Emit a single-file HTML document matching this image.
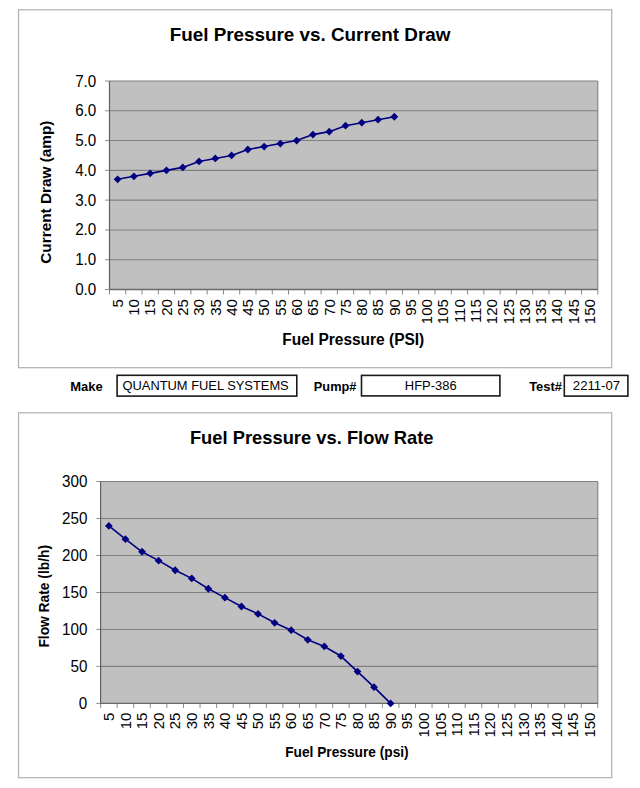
<!DOCTYPE html>
<html><head><meta charset="utf-8"><title>Fuel Pump Test</title>
<style>html,body{margin:0;padding:0;background:#fff;}svg{display:block;}</style></head>
<body><svg width="640" height="788" viewBox="0 0 640 788">
<rect width="640" height="788" fill="#fff"/>
<rect x="18.5" y="9.8" width="593.2" height="357.9" fill="#fff" stroke="#b0b0b0" stroke-width="1.2"/>
<rect x="109.5" y="81" width="488.3" height="208.5" fill="#c0c0c0"/>
<line x1="109.5" x2="597.8" y1="259.71" y2="259.71" stroke="#808080" stroke-width="1.1"/>
<line x1="109.5" x2="597.8" y1="229.93" y2="229.93" stroke="#808080" stroke-width="1.1"/>
<line x1="109.5" x2="597.8" y1="200.14" y2="200.14" stroke="#808080" stroke-width="1.1"/>
<line x1="109.5" x2="597.8" y1="170.36" y2="170.36" stroke="#808080" stroke-width="1.1"/>
<line x1="109.5" x2="597.8" y1="140.57" y2="140.57" stroke="#808080" stroke-width="1.1"/>
<line x1="109.5" x2="597.8" y1="110.79" y2="110.79" stroke="#808080" stroke-width="1.1"/>
<line x1="109.5" x2="597.8" y1="81" y2="81" stroke="#808080" stroke-width="1.1"/>
<line x1="597.8" x2="597.8" y1="81" y2="289.5" stroke="#808080" stroke-width="1.1"/>
<line x1="105" x2="109.5" y1="289.5" y2="289.5" stroke="#909090" stroke-width="1"/>
<line x1="105" x2="109.5" y1="259.71" y2="259.71" stroke="#909090" stroke-width="1"/>
<line x1="105" x2="109.5" y1="229.93" y2="229.93" stroke="#909090" stroke-width="1"/>
<line x1="105" x2="109.5" y1="200.14" y2="200.14" stroke="#909090" stroke-width="1"/>
<line x1="105" x2="109.5" y1="170.36" y2="170.36" stroke="#909090" stroke-width="1"/>
<line x1="105" x2="109.5" y1="140.57" y2="140.57" stroke="#909090" stroke-width="1"/>
<line x1="105" x2="109.5" y1="110.79" y2="110.79" stroke="#909090" stroke-width="1"/>
<line x1="105" x2="109.5" y1="81" y2="81" stroke="#909090" stroke-width="1"/>
<line x1="109.5" x2="109.5" y1="289.5" y2="294.5" stroke="#888" stroke-width="1"/>
<line x1="125.78" x2="125.78" y1="289.5" y2="294.5" stroke="#888" stroke-width="1"/>
<line x1="142.05" x2="142.05" y1="289.5" y2="294.5" stroke="#888" stroke-width="1"/>
<line x1="158.33" x2="158.33" y1="289.5" y2="294.5" stroke="#888" stroke-width="1"/>
<line x1="174.61" x2="174.61" y1="289.5" y2="294.5" stroke="#888" stroke-width="1"/>
<line x1="190.88" x2="190.88" y1="289.5" y2="294.5" stroke="#888" stroke-width="1"/>
<line x1="207.16" x2="207.16" y1="289.5" y2="294.5" stroke="#888" stroke-width="1"/>
<line x1="223.44" x2="223.44" y1="289.5" y2="294.5" stroke="#888" stroke-width="1"/>
<line x1="239.71" x2="239.71" y1="289.5" y2="294.5" stroke="#888" stroke-width="1"/>
<line x1="255.99" x2="255.99" y1="289.5" y2="294.5" stroke="#888" stroke-width="1"/>
<line x1="272.27" x2="272.27" y1="289.5" y2="294.5" stroke="#888" stroke-width="1"/>
<line x1="288.54" x2="288.54" y1="289.5" y2="294.5" stroke="#888" stroke-width="1"/>
<line x1="304.82" x2="304.82" y1="289.5" y2="294.5" stroke="#888" stroke-width="1"/>
<line x1="321.1" x2="321.1" y1="289.5" y2="294.5" stroke="#888" stroke-width="1"/>
<line x1="337.37" x2="337.37" y1="289.5" y2="294.5" stroke="#888" stroke-width="1"/>
<line x1="353.65" x2="353.65" y1="289.5" y2="294.5" stroke="#888" stroke-width="1"/>
<line x1="369.93" x2="369.93" y1="289.5" y2="294.5" stroke="#888" stroke-width="1"/>
<line x1="386.2" x2="386.2" y1="289.5" y2="294.5" stroke="#888" stroke-width="1"/>
<line x1="402.48" x2="402.48" y1="289.5" y2="294.5" stroke="#888" stroke-width="1"/>
<line x1="418.76" x2="418.76" y1="289.5" y2="294.5" stroke="#888" stroke-width="1"/>
<line x1="435.03" x2="435.03" y1="289.5" y2="294.5" stroke="#888" stroke-width="1"/>
<line x1="451.31" x2="451.31" y1="289.5" y2="294.5" stroke="#888" stroke-width="1"/>
<line x1="467.59" x2="467.59" y1="289.5" y2="294.5" stroke="#888" stroke-width="1"/>
<line x1="483.86" x2="483.86" y1="289.5" y2="294.5" stroke="#888" stroke-width="1"/>
<line x1="500.14" x2="500.14" y1="289.5" y2="294.5" stroke="#888" stroke-width="1"/>
<line x1="516.42" x2="516.42" y1="289.5" y2="294.5" stroke="#888" stroke-width="1"/>
<line x1="532.69" x2="532.69" y1="289.5" y2="294.5" stroke="#888" stroke-width="1"/>
<line x1="548.97" x2="548.97" y1="289.5" y2="294.5" stroke="#888" stroke-width="1"/>
<line x1="565.25" x2="565.25" y1="289.5" y2="294.5" stroke="#888" stroke-width="1"/>
<line x1="581.52" x2="581.52" y1="289.5" y2="294.5" stroke="#888" stroke-width="1"/>
<line x1="597.8" x2="597.8" y1="289.5" y2="294.5" stroke="#888" stroke-width="1"/>
<line x1="109.5" x2="109.5" y1="81" y2="289.5" stroke="#606060" stroke-width="1.2"/>
<line x1="109.5" x2="597.8" y1="289.5" y2="289.5" stroke="#6a6a6a" stroke-width="1.3"/>
<g font-family="Liberation Sans, Arial, sans-serif" fill="#000">
<text x="75.18" y="295.02" font-size="16" textLength="21.13" lengthAdjust="spacingAndGlyphs">0.0</text>
<text x="75.18" y="265.23" font-size="16" textLength="21.13" lengthAdjust="spacingAndGlyphs">1.0</text>
<text x="75.18" y="235.45" font-size="16" textLength="21.13" lengthAdjust="spacingAndGlyphs">2.0</text>
<text x="75.18" y="205.66" font-size="16" textLength="21.13" lengthAdjust="spacingAndGlyphs">3.0</text>
<text x="75.18" y="175.88" font-size="16" textLength="21.13" lengthAdjust="spacingAndGlyphs">4.0</text>
<text x="75.18" y="146.09" font-size="16" textLength="21.13" lengthAdjust="spacingAndGlyphs">5.0</text>
<text x="75.18" y="116.31" font-size="16" textLength="21.13" lengthAdjust="spacingAndGlyphs">6.0</text>
<text x="75.18" y="86.52" font-size="16" textLength="21.13" lengthAdjust="spacingAndGlyphs">7.0</text>
<text transform="translate(122.84,307.52) rotate(-90)" font-size="15.3" textLength="8.34" lengthAdjust="spacingAndGlyphs">5</text>
<text transform="translate(139.19,315.84) rotate(-90)" font-size="15.3" textLength="16.68" lengthAdjust="spacingAndGlyphs">10</text>
<text transform="translate(155.39,315.84) rotate(-90)" font-size="15.3" textLength="16.68" lengthAdjust="spacingAndGlyphs">15</text>
<text transform="translate(171.75,315.84) rotate(-90)" font-size="15.3" textLength="16.68" lengthAdjust="spacingAndGlyphs">20</text>
<text transform="translate(188.02,315.84) rotate(-90)" font-size="15.3" textLength="16.68" lengthAdjust="spacingAndGlyphs">25</text>
<text transform="translate(204.3,315.84) rotate(-90)" font-size="15.3" textLength="16.68" lengthAdjust="spacingAndGlyphs">30</text>
<text transform="translate(220.58,315.84) rotate(-90)" font-size="15.3" textLength="16.68" lengthAdjust="spacingAndGlyphs">35</text>
<text transform="translate(236.85,315.84) rotate(-90)" font-size="15.3" textLength="16.68" lengthAdjust="spacingAndGlyphs">40</text>
<text transform="translate(253.05,315.84) rotate(-90)" font-size="15.3" textLength="16.68" lengthAdjust="spacingAndGlyphs">45</text>
<text transform="translate(269.41,315.84) rotate(-90)" font-size="15.3" textLength="16.68" lengthAdjust="spacingAndGlyphs">50</text>
<text transform="translate(285.61,315.84) rotate(-90)" font-size="15.3" textLength="16.68" lengthAdjust="spacingAndGlyphs">55</text>
<text transform="translate(301.96,315.84) rotate(-90)" font-size="15.3" textLength="16.68" lengthAdjust="spacingAndGlyphs">60</text>
<text transform="translate(318.24,315.84) rotate(-90)" font-size="15.3" textLength="16.68" lengthAdjust="spacingAndGlyphs">65</text>
<text transform="translate(334.51,315.84) rotate(-90)" font-size="15.3" textLength="16.68" lengthAdjust="spacingAndGlyphs">70</text>
<text transform="translate(350.71,315.84) rotate(-90)" font-size="15.3" textLength="16.68" lengthAdjust="spacingAndGlyphs">75</text>
<text transform="translate(367.07,315.84) rotate(-90)" font-size="15.3" textLength="16.68" lengthAdjust="spacingAndGlyphs">80</text>
<text transform="translate(383.34,315.84) rotate(-90)" font-size="15.3" textLength="16.68" lengthAdjust="spacingAndGlyphs">85</text>
<text transform="translate(399.62,315.84) rotate(-90)" font-size="15.3" textLength="16.68" lengthAdjust="spacingAndGlyphs">90</text>
<text transform="translate(415.9,315.84) rotate(-90)" font-size="15.3" textLength="16.68" lengthAdjust="spacingAndGlyphs">95</text>
<text transform="translate(432.17,324.17) rotate(-90)" font-size="15.3" textLength="25.02" lengthAdjust="spacingAndGlyphs">100</text>
<text transform="translate(448.45,324.17) rotate(-90)" font-size="15.3" textLength="25.02" lengthAdjust="spacingAndGlyphs">105</text>
<text transform="translate(464.73,323.12) rotate(-90)" font-size="15.3" textLength="23.9" lengthAdjust="spacingAndGlyphs">110</text>
<text transform="translate(480.93,323.12) rotate(-90)" font-size="15.3" textLength="23.9" lengthAdjust="spacingAndGlyphs">115</text>
<text transform="translate(497.28,324.17) rotate(-90)" font-size="15.3" textLength="25.02" lengthAdjust="spacingAndGlyphs">120</text>
<text transform="translate(513.56,324.17) rotate(-90)" font-size="15.3" textLength="25.02" lengthAdjust="spacingAndGlyphs">125</text>
<text transform="translate(529.83,324.17) rotate(-90)" font-size="15.3" textLength="25.02" lengthAdjust="spacingAndGlyphs">130</text>
<text transform="translate(546.11,324.17) rotate(-90)" font-size="15.3" textLength="25.02" lengthAdjust="spacingAndGlyphs">135</text>
<text transform="translate(562.39,324.17) rotate(-90)" font-size="15.3" textLength="25.02" lengthAdjust="spacingAndGlyphs">140</text>
<text transform="translate(578.59,324.17) rotate(-90)" font-size="15.3" textLength="25.02" lengthAdjust="spacingAndGlyphs">145</text>
<text transform="translate(594.94,324.17) rotate(-90)" font-size="15.3" textLength="25.02" lengthAdjust="spacingAndGlyphs">150</text>
<text x="169.67" y="40.75" font-size="19" font-weight="bold" textLength="280.72" lengthAdjust="spacingAndGlyphs">Fuel Pressure vs. Current Draw</text>
<text transform="translate(50.8,263.71) rotate(-90)" font-size="15.4" font-weight="bold" textLength="143.17" lengthAdjust="spacingAndGlyphs">Current Draw (amp)</text>
<text x="282.29" y="344.6" font-size="16" font-weight="bold" textLength="141.98" lengthAdjust="spacingAndGlyphs">Fuel Pressure (PSI)</text>
</g>
<path d="M117.64 179.29 L133.91 176.31 L150.19 173.34 L166.47 170.36 L182.75 167.38 L199.02 161.42 L215.3 158.44 L231.57 155.46 L247.85 149.51 L264.13 146.53 L280.4 143.55 L296.68 140.57 L312.96 134.61 L329.23 131.64 L345.51 125.68 L361.79 122.7 L378.06 119.72 L394.34 116.74" fill="none" stroke="#000080" stroke-width="1.6" stroke-linejoin="round"/>
<g fill="#000080"><path d="M117.64 175.39L121.54 179.29L117.64 183.19L113.74 179.29Z"/><path d="M133.91 172.41L137.81 176.31L133.91 180.21L130.01 176.31Z"/><path d="M150.19 169.44L154.09 173.34L150.19 177.24L146.29 173.34Z"/><path d="M166.47 166.46L170.37 170.36L166.47 174.26L162.57 170.36Z"/><path d="M182.75 163.48L186.65 167.38L182.75 171.28L178.84 167.38Z"/><path d="M199.02 157.52L202.92 161.42L199.02 165.32L195.12 161.42Z"/><path d="M215.3 154.54L219.2 158.44L215.3 162.34L211.4 158.44Z"/><path d="M231.57 151.56L235.47 155.46L231.57 159.36L227.67 155.46Z"/><path d="M247.85 145.61L251.75 149.51L247.85 153.41L243.95 149.51Z"/><path d="M264.13 142.63L268.03 146.53L264.13 150.43L260.23 146.53Z"/><path d="M280.4 139.65L284.3 143.55L280.4 147.45L276.5 143.55Z"/><path d="M296.68 136.67L300.58 140.57L296.68 144.47L292.78 140.57Z"/><path d="M312.96 130.71L316.86 134.61L312.96 138.51L309.06 134.61Z"/><path d="M329.23 127.74L333.13 131.64L329.23 135.54L325.33 131.64Z"/><path d="M345.51 121.78L349.41 125.68L345.51 129.58L341.61 125.68Z"/><path d="M361.79 118.8L365.69 122.7L361.79 126.6L357.89 122.7Z"/><path d="M378.06 115.82L381.96 119.72L378.06 123.62L374.16 119.72Z"/><path d="M394.34 112.84L398.24 116.74L394.34 120.64L390.44 116.74Z"/></g>
<g font-family="Liberation Sans, Arial, sans-serif" fill="#000">
<text x="70.15" y="390.75" font-size="13.5" font-weight="bold" textLength="32.57" lengthAdjust="spacingAndGlyphs">Make</text>
<text x="313.87" y="390.5" font-size="13.5" font-weight="bold" textLength="42.51" lengthAdjust="spacingAndGlyphs">Pump#</text>
<text x="529.17" y="390.5" font-size="13.5" font-weight="bold" textLength="32.87" lengthAdjust="spacingAndGlyphs">Test#</text>
<text x="122.52" y="389.6" font-size="13" textLength="166.21" lengthAdjust="spacingAndGlyphs">QUANTUM FUEL SYSTEMS</text>
<text x="404.86" y="389.6" font-size="13" textLength="51.84" lengthAdjust="spacingAndGlyphs">HFP-386</text>
<text x="572.84" y="389.8" font-size="13" textLength="47.22" lengthAdjust="spacingAndGlyphs">2211-07</text>
</g>
<rect x="117.1" y="375.3" width="179.7" height="20.8" fill="none" stroke="#1a1a1a" stroke-width="1.6"/>
<rect x="361.5" y="375.4" width="138.4" height="20.5" fill="none" stroke="#1a1a1a" stroke-width="1.6"/>
<rect x="564.3" y="375.4" width="63.6" height="20.7" fill="none" stroke="#1a1a1a" stroke-width="1.6"/>
<rect x="18.5" y="412.8" width="593.2" height="364.9" fill="#fff" stroke="#b0b0b0" stroke-width="1.2"/>
<rect x="100.6" y="481.5" width="497.2" height="221.9" fill="#c0c0c0"/>
<line x1="100.6" x2="597.8" y1="666.42" y2="666.42" stroke="#808080" stroke-width="1.1"/>
<line x1="100.6" x2="597.8" y1="629.43" y2="629.43" stroke="#808080" stroke-width="1.1"/>
<line x1="100.6" x2="597.8" y1="592.45" y2="592.45" stroke="#808080" stroke-width="1.1"/>
<line x1="100.6" x2="597.8" y1="555.47" y2="555.47" stroke="#808080" stroke-width="1.1"/>
<line x1="100.6" x2="597.8" y1="518.48" y2="518.48" stroke="#808080" stroke-width="1.1"/>
<line x1="100.6" x2="597.8" y1="481.5" y2="481.5" stroke="#808080" stroke-width="1.1"/>
<line x1="597.8" x2="597.8" y1="481.5" y2="703.4" stroke="#808080" stroke-width="1.1"/>
<line x1="96.3" x2="100.6" y1="703.4" y2="703.4" stroke="#909090" stroke-width="1"/>
<line x1="96.3" x2="100.6" y1="666.42" y2="666.42" stroke="#909090" stroke-width="1"/>
<line x1="96.3" x2="100.6" y1="629.43" y2="629.43" stroke="#909090" stroke-width="1"/>
<line x1="96.3" x2="100.6" y1="592.45" y2="592.45" stroke="#909090" stroke-width="1"/>
<line x1="96.3" x2="100.6" y1="555.47" y2="555.47" stroke="#909090" stroke-width="1"/>
<line x1="96.3" x2="100.6" y1="518.48" y2="518.48" stroke="#909090" stroke-width="1"/>
<line x1="96.3" x2="100.6" y1="481.5" y2="481.5" stroke="#909090" stroke-width="1"/>
<line x1="100.6" x2="100.6" y1="703.4" y2="707.9" stroke="#888" stroke-width="1"/>
<line x1="117.17" x2="117.17" y1="703.4" y2="707.9" stroke="#888" stroke-width="1"/>
<line x1="133.75" x2="133.75" y1="703.4" y2="707.9" stroke="#888" stroke-width="1"/>
<line x1="150.32" x2="150.32" y1="703.4" y2="707.9" stroke="#888" stroke-width="1"/>
<line x1="166.89" x2="166.89" y1="703.4" y2="707.9" stroke="#888" stroke-width="1"/>
<line x1="183.47" x2="183.47" y1="703.4" y2="707.9" stroke="#888" stroke-width="1"/>
<line x1="200.04" x2="200.04" y1="703.4" y2="707.9" stroke="#888" stroke-width="1"/>
<line x1="216.61" x2="216.61" y1="703.4" y2="707.9" stroke="#888" stroke-width="1"/>
<line x1="233.19" x2="233.19" y1="703.4" y2="707.9" stroke="#888" stroke-width="1"/>
<line x1="249.76" x2="249.76" y1="703.4" y2="707.9" stroke="#888" stroke-width="1"/>
<line x1="266.33" x2="266.33" y1="703.4" y2="707.9" stroke="#888" stroke-width="1"/>
<line x1="282.91" x2="282.91" y1="703.4" y2="707.9" stroke="#888" stroke-width="1"/>
<line x1="299.48" x2="299.48" y1="703.4" y2="707.9" stroke="#888" stroke-width="1"/>
<line x1="316.05" x2="316.05" y1="703.4" y2="707.9" stroke="#888" stroke-width="1"/>
<line x1="332.63" x2="332.63" y1="703.4" y2="707.9" stroke="#888" stroke-width="1"/>
<line x1="349.2" x2="349.2" y1="703.4" y2="707.9" stroke="#888" stroke-width="1"/>
<line x1="365.77" x2="365.77" y1="703.4" y2="707.9" stroke="#888" stroke-width="1"/>
<line x1="382.35" x2="382.35" y1="703.4" y2="707.9" stroke="#888" stroke-width="1"/>
<line x1="398.92" x2="398.92" y1="703.4" y2="707.9" stroke="#888" stroke-width="1"/>
<line x1="415.49" x2="415.49" y1="703.4" y2="707.9" stroke="#888" stroke-width="1"/>
<line x1="432.07" x2="432.07" y1="703.4" y2="707.9" stroke="#888" stroke-width="1"/>
<line x1="448.64" x2="448.64" y1="703.4" y2="707.9" stroke="#888" stroke-width="1"/>
<line x1="465.21" x2="465.21" y1="703.4" y2="707.9" stroke="#888" stroke-width="1"/>
<line x1="481.79" x2="481.79" y1="703.4" y2="707.9" stroke="#888" stroke-width="1"/>
<line x1="498.36" x2="498.36" y1="703.4" y2="707.9" stroke="#888" stroke-width="1"/>
<line x1="514.93" x2="514.93" y1="703.4" y2="707.9" stroke="#888" stroke-width="1"/>
<line x1="531.51" x2="531.51" y1="703.4" y2="707.9" stroke="#888" stroke-width="1"/>
<line x1="548.08" x2="548.08" y1="703.4" y2="707.9" stroke="#888" stroke-width="1"/>
<line x1="564.65" x2="564.65" y1="703.4" y2="707.9" stroke="#888" stroke-width="1"/>
<line x1="581.23" x2="581.23" y1="703.4" y2="707.9" stroke="#888" stroke-width="1"/>
<line x1="597.8" x2="597.8" y1="703.4" y2="707.9" stroke="#888" stroke-width="1"/>
<line x1="100.6" x2="100.6" y1="481.5" y2="703.4" stroke="#606060" stroke-width="1.2"/>
<line x1="100.6" x2="597.8" y1="703.4" y2="703.4" stroke="#6a6a6a" stroke-width="1.3"/>
<g font-family="Liberation Sans, Arial, sans-serif" fill="#000">
<text x="78.87" y="708.92" font-size="16" textLength="8.45" lengthAdjust="spacingAndGlyphs">0</text>
<text x="70.44" y="671.94" font-size="16" textLength="16.91" lengthAdjust="spacingAndGlyphs">50</text>
<text x="62" y="634.95" font-size="16" textLength="25.36" lengthAdjust="spacingAndGlyphs">100</text>
<text x="62" y="597.97" font-size="16" textLength="25.36" lengthAdjust="spacingAndGlyphs">150</text>
<text x="62" y="560.99" font-size="16" textLength="25.36" lengthAdjust="spacingAndGlyphs">200</text>
<text x="62" y="524" font-size="16" textLength="25.36" lengthAdjust="spacingAndGlyphs">250</text>
<text x="62" y="487.02" font-size="16" textLength="25.36" lengthAdjust="spacingAndGlyphs">300</text>
<text transform="translate(114.09,720.92) rotate(-90)" font-size="15.3" textLength="8.34" lengthAdjust="spacingAndGlyphs">5</text>
<text transform="translate(130.74,729.24) rotate(-90)" font-size="15.3" textLength="16.68" lengthAdjust="spacingAndGlyphs">10</text>
<text transform="translate(147.24,729.24) rotate(-90)" font-size="15.3" textLength="16.68" lengthAdjust="spacingAndGlyphs">15</text>
<text transform="translate(163.89,729.24) rotate(-90)" font-size="15.3" textLength="16.68" lengthAdjust="spacingAndGlyphs">20</text>
<text transform="translate(180.46,729.24) rotate(-90)" font-size="15.3" textLength="16.68" lengthAdjust="spacingAndGlyphs">25</text>
<text transform="translate(197.03,729.24) rotate(-90)" font-size="15.3" textLength="16.68" lengthAdjust="spacingAndGlyphs">30</text>
<text transform="translate(213.61,729.24) rotate(-90)" font-size="15.3" textLength="16.68" lengthAdjust="spacingAndGlyphs">35</text>
<text transform="translate(230.18,729.24) rotate(-90)" font-size="15.3" textLength="16.68" lengthAdjust="spacingAndGlyphs">40</text>
<text transform="translate(246.68,729.24) rotate(-90)" font-size="15.3" textLength="16.68" lengthAdjust="spacingAndGlyphs">45</text>
<text transform="translate(263.33,729.24) rotate(-90)" font-size="15.3" textLength="16.68" lengthAdjust="spacingAndGlyphs">50</text>
<text transform="translate(279.82,729.24) rotate(-90)" font-size="15.3" textLength="16.68" lengthAdjust="spacingAndGlyphs">55</text>
<text transform="translate(296.47,729.24) rotate(-90)" font-size="15.3" textLength="16.68" lengthAdjust="spacingAndGlyphs">60</text>
<text transform="translate(313.05,729.24) rotate(-90)" font-size="15.3" textLength="16.68" lengthAdjust="spacingAndGlyphs">65</text>
<text transform="translate(329.62,729.24) rotate(-90)" font-size="15.3" textLength="16.68" lengthAdjust="spacingAndGlyphs">70</text>
<text transform="translate(346.12,729.24) rotate(-90)" font-size="15.3" textLength="16.68" lengthAdjust="spacingAndGlyphs">75</text>
<text transform="translate(362.77,729.24) rotate(-90)" font-size="15.3" textLength="16.68" lengthAdjust="spacingAndGlyphs">80</text>
<text transform="translate(379.34,729.24) rotate(-90)" font-size="15.3" textLength="16.68" lengthAdjust="spacingAndGlyphs">85</text>
<text transform="translate(395.91,729.24) rotate(-90)" font-size="15.3" textLength="16.68" lengthAdjust="spacingAndGlyphs">90</text>
<text transform="translate(412.49,729.24) rotate(-90)" font-size="15.3" textLength="16.68" lengthAdjust="spacingAndGlyphs">95</text>
<text transform="translate(429.06,737.57) rotate(-90)" font-size="15.3" textLength="25.02" lengthAdjust="spacingAndGlyphs">100</text>
<text transform="translate(445.63,737.57) rotate(-90)" font-size="15.3" textLength="25.02" lengthAdjust="spacingAndGlyphs">105</text>
<text transform="translate(462.21,736.52) rotate(-90)" font-size="15.3" textLength="23.9" lengthAdjust="spacingAndGlyphs">110</text>
<text transform="translate(478.7,736.52) rotate(-90)" font-size="15.3" textLength="23.9" lengthAdjust="spacingAndGlyphs">115</text>
<text transform="translate(495.35,737.57) rotate(-90)" font-size="15.3" textLength="25.02" lengthAdjust="spacingAndGlyphs">120</text>
<text transform="translate(511.93,737.57) rotate(-90)" font-size="15.3" textLength="25.02" lengthAdjust="spacingAndGlyphs">125</text>
<text transform="translate(528.5,737.57) rotate(-90)" font-size="15.3" textLength="25.02" lengthAdjust="spacingAndGlyphs">130</text>
<text transform="translate(545.07,737.57) rotate(-90)" font-size="15.3" textLength="25.02" lengthAdjust="spacingAndGlyphs">135</text>
<text transform="translate(561.65,737.57) rotate(-90)" font-size="15.3" textLength="25.02" lengthAdjust="spacingAndGlyphs">140</text>
<text transform="translate(578.14,737.57) rotate(-90)" font-size="15.3" textLength="25.02" lengthAdjust="spacingAndGlyphs">145</text>
<text transform="translate(594.79,737.57) rotate(-90)" font-size="15.3" textLength="25.02" lengthAdjust="spacingAndGlyphs">150</text>
<text x="189.91" y="443.5" font-size="19" font-weight="bold" textLength="243.59" lengthAdjust="spacingAndGlyphs">Fuel Pressure vs. Flow Rate</text>
<text transform="translate(49,647.6) rotate(-90)" font-size="14" font-weight="bold" textLength="102.57" lengthAdjust="spacingAndGlyphs">Flow Rate (lb/h)</text>
<text x="285.21" y="757.4" font-size="14" font-weight="bold" textLength="123.45" lengthAdjust="spacingAndGlyphs">Fuel Pressure (psi)</text>
</g>
<path d="M108.89 525.88 L125.46 539.19 L142.03 551.77 L158.61 560.64 L175.18 570.26 L191.75 578.4 L208.33 588.75 L224.9 597.63 L241.47 606.5 L258.05 613.9 L274.62 622.78 L291.19 630.17 L307.77 639.79 L324.34 646.45 L340.91 656.06 L357.49 671.59 L374.06 687.13 L390.63 703.4" fill="none" stroke="#000080" stroke-width="1.6" stroke-linejoin="round"/>
<g fill="#000080"><path d="M108.89 521.98L112.79 525.88L108.89 529.78L104.99 525.88Z"/><path d="M125.46 535.29L129.36 539.19L125.46 543.09L121.56 539.19Z"/><path d="M142.03 547.87L145.93 551.77L142.03 555.67L138.13 551.77Z"/><path d="M158.61 556.74L162.51 560.64L158.61 564.54L154.71 560.64Z"/><path d="M175.18 566.36L179.08 570.26L175.18 574.16L171.28 570.26Z"/><path d="M191.75 574.5L195.65 578.4L191.75 582.3L187.85 578.4Z"/><path d="M208.33 584.85L212.23 588.75L208.33 592.65L204.43 588.75Z"/><path d="M224.9 593.73L228.8 597.63L224.9 601.53L221 597.63Z"/><path d="M241.47 602.6L245.37 606.5L241.47 610.4L237.57 606.5Z"/><path d="M258.05 610L261.95 613.9L258.05 617.8L254.15 613.9Z"/><path d="M274.62 618.88L278.52 622.78L274.62 626.68L270.72 622.78Z"/><path d="M291.19 626.27L295.09 630.17L291.19 634.07L287.29 630.17Z"/><path d="M307.77 635.89L311.67 639.79L307.77 643.69L303.87 639.79Z"/><path d="M324.34 642.55L328.24 646.45L324.34 650.35L320.44 646.45Z"/><path d="M340.91 652.16L344.81 656.06L340.91 659.96L337.01 656.06Z"/><path d="M357.49 667.69L361.39 671.59L357.49 675.49L353.59 671.59Z"/><path d="M374.06 683.23L377.96 687.13L374.06 691.03L370.16 687.13Z"/><path d="M390.63 699.5L394.53 703.4L390.63 707.3L386.73 703.4Z"/></g>
</svg></body></html>
